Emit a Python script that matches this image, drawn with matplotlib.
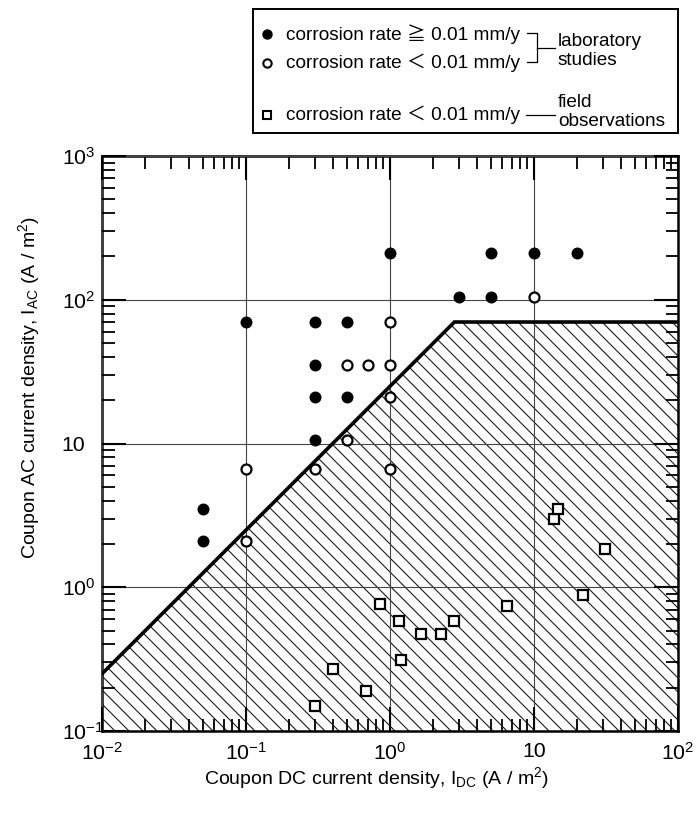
import matplotlib
matplotlib.use("Agg")
import numpy as np
import matplotlib.pyplot as plt
from matplotlib.patches import Polygon
from matplotlib.collections import LineCollection
from matplotlib.ticker import FixedLocator, FixedFormatter, LogLocator, NullFormatter

plt.rcParams['font.family'] = ['Liberation Sans', 'Noto Sans CJK JP']
plt.rcParams['mathtext.fontset'] = 'custom'
plt.rcParams['mathtext.rm'] = 'Liberation Sans'
plt.rcParams['mathtext.it'] = 'Liberation Sans:italic'

# laboratory studies, corrosion rate >= 0.01 mm/y
lab_hi_x = [0.05, 0.05, 0.1, 0.3, 0.3, 0.3, 0.3, 0.5, 0.5, 1, 3, 5, 5, 10, 20]
lab_hi_y = [3.5, 2.1, 70, 70, 35, 21, 10.5, 70, 21, 210, 105, 105, 210, 210, 210]
# laboratory studies, corrosion rate < 0.01 mm/y
lab_lo_x = [0.1, 0.1, 0.3, 0.5, 0.5, 0.7, 1, 1, 1, 1, 10]
lab_lo_y = [6.6, 2.1, 6.6, 10.5, 35, 35, 70, 35, 21, 6.6, 105]
# field observations, corrosion rate < 0.01 mm/y
field_x = [0.3, 0.4, 0.68, 0.85, 1.15, 1.2, 1.65, 2.25, 2.8, 6.5, 13.8, 14.6, 22, 31]
field_y = [0.15, 0.27, 0.19, 0.77, 0.58, 0.31, 0.47, 0.47, 0.58, 0.74, 3.0, 3.5, 0.88, 1.85]
# safe-zone boundary
limit_x = [0.01, 2.8, 100]
limit_y = [0.25, 70, 70]

x_ticks = [1e-2, 1e-1, 1, 10, 1e2]
x_labels = ['$10^{-2}$', '$10^{-1}$', '$10^{0}$', '10', '$10^{2}$']
y_ticks = [1e-1, 1, 10, 1e2, 1e3]
y_labels = ['$10^{-1}$', '$10^{0}$', '10', '$10^{2}$', '$10^{3}$']

FS = 14
LEG_FS = 13.7
TICK_FS = 15.3
W, H = 696, 814
AX_W, AX_H = 576, 575

fig = plt.figure(figsize=(W / 100, H / 100), dpi=100)
ax = fig.add_axes([102 / W, 1 - 731 / H, AX_W / W, AX_H / H])
ax.set_xscale('log')
ax.set_yscale('log')
ax.set_xlim(1e-2, 1e2)
ax.set_ylim(1e-1, 1e3)

# hatched region below the boundary
y0 = ax.get_ylim()[0]
region = Polygon(list(zip([limit_x[0]] + limit_x + [limit_x[-1]],
                          [y0] + limit_y + [y0])),
                 closed=True, facecolor='none', edgecolor='none')
ax.add_patch(region)
offsets = np.arange(-1.0, 1.0, 14 / AX_W)
segs = [[(c, 1.0), (c + AX_H / AX_W, 0.0)] for c in offsets]
hatch = LineCollection(segs, colors='#1a1a1a', linewidths=0.8,
                       transform=ax.transAxes, zorder=1)
hatch.set_clip_path(region)
ax.add_collection(hatch)
ax.plot(limit_x, limit_y, color='black', lw=2.6, solid_joinstyle='miter', zorder=3)

ax.grid(True, which='major', color='#444444', lw=0.8, zorder=2)
ax.set_axisbelow(False)

ax.plot(lab_hi_x, lab_hi_y, 'o', ms=8.6, mfc='black', mec='black', mew=0, zorder=5)
ax.plot(lab_lo_x, lab_lo_y, 'o', ms=7.2, mfc='white', mec='black', mew=1.6, zorder=5)
ax.plot(field_x, field_y, 's', ms=7.0, mfc='white', mec='black', mew=1.6, zorder=5)

ax.xaxis.set_major_locator(FixedLocator(x_ticks))
ax.xaxis.set_major_formatter(FixedFormatter(x_labels))
ax.yaxis.set_major_locator(FixedLocator(y_ticks))
ax.yaxis.set_major_formatter(FixedFormatter(y_labels))
for axis in (ax.xaxis, ax.yaxis):
    axis.set_minor_locator(LogLocator(base=10, subs=range(2, 10), numticks=20))
    axis.set_minor_formatter(NullFormatter())
ax.tick_params(which='both', direction='in', top=True, right=True, labelsize=TICK_FS)
ax.tick_params(which='major', length=17, width=1.5)
ax.tick_params(which='minor', length=9, width=1.3)
ax.tick_params(axis='x', which='major', pad=8)
# y labels start in a common column, superscripts hang to the right
ax.tick_params(axis='y', which='major', pad=29)
plt.setp(ax.get_yticklabels(), ha='left')
for s in ax.spines.values():
    s.set_linewidth(1.8)

ax.set_xlabel('Coupon DC current density, I$_{\\mathrm{DC}}$ (A / m$^{2}$)',
              fontsize=FS, va='center')
ax.xaxis.set_label_coords(0.477, -0.081)
ax.set_ylabel('Coupon AC current density, I$_{\\mathrm{AC}}$ (A / m$^{2}$)',
              fontsize=FS, va='center')
ax.yaxis.set_label_coords(-0.127, 0.598)

# legend box, laid out in pixel units
lax = fig.add_axes([253 / W, 1 - 133 / H, 425 / W, 124 / H])
lax.set_xlim(253, 678)
lax.set_ylim(133, 9)
lax.set_xticks([])
lax.set_yticks([])
for s in lax.spines.values():
    s.set_linewidth(1.4)

lax.plot(267, 34, 'o', ms=7.5, mfc='black', mec='black', mew=0)
lax.plot(267, 63, 'o', ms=6.0, mfc='white', mec='black', mew=1.5)
lax.plot(267, 115, 's', ms=6.0, mfc='white', mec='black', mew=1.5)
lax.text(286, 34, 'corrosion rate ≧ 0.01 mm/y', fontsize=LEG_FS, va='center')
lax.text(286, 63, 'corrosion rate ＜ 0.01 mm/y', fontsize=LEG_FS, va='center')
lax.text(286, 115, 'corrosion rate ＜ 0.01 mm/y', fontsize=LEG_FS, va='center')

lax.plot([527, 537, 537, 527], [33, 33, 62, 62], color='black', lw=0.9)
lax.plot([537, 555], [48, 48], color='black', lw=0.9)
lax.plot([526, 555], [115, 115], color='black', lw=0.9)
lax.text(558, 51, 'laboratory\nstudies', fontsize=LEG_FS, va='center', linespacing=1.15)
lax.text(558, 112, 'field\nobservations', fontsize=LEG_FS, va='center', linespacing=1.15)

fig.savefig('out.png', dpi=100)
